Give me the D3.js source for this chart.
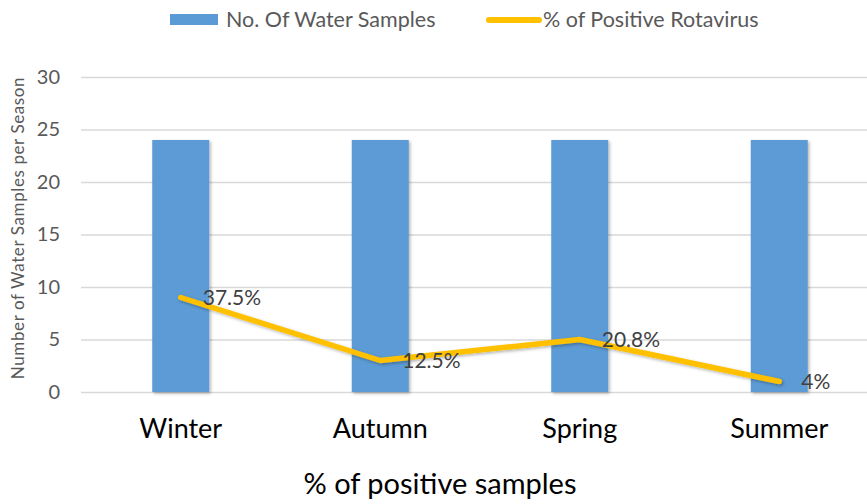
<!DOCTYPE html>
<html>
<head>
<meta charset="utf-8">
<script src="https://cdn.jsdelivr.net/npm/d3@7"></script>
<style>
  body { margin: 0; background: #fff; }
  text { font-family: Lato, "Open Sans", sans-serif; }
</style>
</head>
<body>
<div id="box"></div>
<script>
'use strict';

var seasons = ["Winter", "Autumn", "Spring", "Summer"];
var waterSamples = [24, 24, 24, 24];
var positiveSamples = [9, 3, 5, 1];
var positiveLabels = ["37.5%", "12.5%", "20.8%", "4%"];
var yTicks = [0, 5, 10, 15, 20, 25, 30];

var width = 867, height = 504;

var svg = d3.select("#box")
  .append("svg")
    .attr("width", width)
    .attr("height", height);

var defs = svg.append("defs");
var f = defs.append("filter").attr("id", "shadow")
  .attr("x", "-20%").attr("y", "-20%").attr("width", "140%").attr("height", "140%");
f.append("feDropShadow")
  .attr("dx", 1.5).attr("dy", 1.5).attr("stdDeviation", 1.5)
  .attr("flood-color", "#000").attr("flood-opacity", 0.3);

// scales
var x = d3.scaleBand()
  .domain(seasons)
  .range([81, 879]);

var y = d3.scaleLinear()
  .domain([0, 30])
  .range([392, 77]);

// gridlines
svg.append("g")
  .selectAll("line")
  .data(yTicks)
  .enter().append("line")
    .attr("x1", 81)
    .attr("x2", width)
    .attr("y1", function(d) { return y(d) + 0.5; })
    .attr("y2", function(d) { return y(d) + 0.5; })
    .attr("stroke", "#d9d9d9")
    .attr("stroke-width", 1.5);

// y axis labels
var yAxis = svg.append("g")
  .attr("transform", "translate(60,0)")
  .call(d3.axisLeft(y).tickValues(yTicks).tickSize(0).tickPadding(0));
yAxis.select(".domain").remove();
yAxis.selectAll("text")
  .style("font-size", "20px")
  .attr("fill", "#595959");

svg.append("text")
  .attr("transform", "rotate(-90)")
  .attr("x", -228)
  .attr("y", 24)
  .style("text-anchor", "middle")
  .style("font-size", "17px")
  .style("letter-spacing", "0.6px")
  .attr("fill", "#595959")
  .text("Number of Water Samples per Season");

// bars
var bw = 57;
svg.append("g")
  .selectAll("rect")
  .data(seasons)
  .enter().append("rect")
    .attr("x", function(d) { return x(d) + x.bandwidth() / 2 - bw / 2; })
    .attr("y", function(d, i) { return y(waterSamples[i]); })
    .attr("width", bw)
    .attr("height", function(d, i) { return y(0) - y(waterSamples[i]); })
    .attr("fill", "#5b9bd5")
    .attr("filter", "url(#shadow)");

// line
svg.append("path")
  .datum(seasons)
  .attr("fill", "none")
  .attr("stroke", "#ffc000")
  .attr("stroke-width", 5.5)
  .attr("stroke-linecap", "round")
  .attr("stroke-linejoin", "round")
  .attr("filter", "url(#shadow)")
  .attr("d", d3.line()
    .x(function(d) { return x(d) + x.bandwidth() / 2; })
    .y(function(d, i) { return y(positiveSamples[i]); }));

// data labels
svg.append("g")
  .selectAll("text")
  .data(seasons)
  .enter().append("text")
    .attr("x", function(d) { return x(d) + x.bandwidth() / 2 + 22; })
    .attr("y", function(d, i) { return y(positiveSamples[i]) + 7; })
    .style("font-size", "21px")
    .attr("fill", "#404040")
    .text(function(d, i) { return positiveLabels[i]; });

// x labels
svg.append("g")
  .selectAll("text")
  .data(seasons)
  .enter().append("text")
    .attr("x", function(d) { return x(d) + x.bandwidth() / 2; })
    .attr("y", 438)
    .style("text-anchor", "middle")
    .style("font-size", "27px")
    .attr("fill", "#000")
    .text(function(d) { return d; });

svg.append("text")
  .attr("x", 440)
  .attr("y", 494)
  .style("text-anchor", "middle")
  .style("font-size", "29px")
  .attr("fill", "#000")
  .text("% of positive samples");

// legend
var legend = svg.append("g");
legend.append("rect")
  .attr("x", 170).attr("y", 14)
  .attr("width", 48).attr("height", 11)
  .attr("fill", "#5b9bd5");
legend.append("text")
  .attr("x", 226).attr("y", 27)
  .style("font-size", "21.5px")
  .attr("fill", "#595959")
  .text("No. Of Water Samples");
legend.append("line")
  .attr("x1", 489).attr("x2", 539)
  .attr("y1", 20).attr("y2", 20)
  .attr("stroke", "#ffc000")
  .attr("stroke-width", 6)
  .attr("stroke-linecap", "round");
legend.append("text")
  .attr("x", 543).attr("y", 27)
  .style("font-size", "21.5px")
  .attr("fill", "#595959")
  .text("% of Positive Rotavirus");
</script>
</body>
</html>
